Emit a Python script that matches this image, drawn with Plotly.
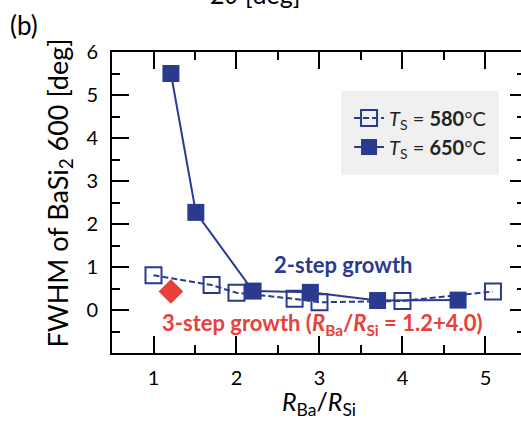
import plotly.graph_objects as go

# Data
x_580 = [1.0, 1.7, 2.0, 2.7, 3.0, 4.0, 5.09]
y_580 = [0.81, 0.58, 0.40, 0.26, 0.18, 0.21, 0.43]
x_650 = [1.21, 1.51, 2.2, 2.89, 3.7, 4.67]
y_650 = [5.50, 2.27, 0.44, 0.41, 0.22, 0.23]
x_3step = [1.21]
y_3step = [0.43]
x_ticks = [1, 2, 3, 4, 5]
y_ticks = [0, 1, 2, 3, 4, 5, 6]

BLUE = "#2a3b8f"
RED = "#e8403a"
FONT = "Lato"

fig = go.Figure()
fig.add_trace(go.Scatter(
    x=x_580, y=y_580, mode="lines+markers",
    name="<i>T</i><sub>S</sub> = <b>580</b>°C",
    line=dict(color=BLUE, width=2, dash="6px,3px"),
    marker=dict(symbol="square-open", size=16, color=BLUE, line=dict(width=2, color=BLUE)),
))
fig.add_trace(go.Scatter(
    x=x_650, y=y_650, mode="lines+markers",
    name="<i>T</i><sub>S</sub> = <b>650</b>°C",
    line=dict(color=BLUE, width=2),
    marker=dict(symbol="square", size=17, color=BLUE, line=dict(width=0)),
))
fig.add_trace(go.Scatter(
    x=x_3step, y=y_3step, mode="markers", showlegend=False,
    marker=dict(symbol="diamond", size=19, color=RED, line=dict(width=0)),
))
# dummy trace to activate right-side tick axis
fig.add_trace(go.Scatter(x=[None], y=[None], yaxis="y2", showlegend=False, hoverinfo="skip"))

tickfont = dict(family=FONT, size=20, color="black")
fig.update_layout(
    width=521, height=426,
    margin=dict(l=112, r=0, t=52, b=73),
    paper_bgcolor="white", plot_bgcolor="white",
    font=dict(family=FONT, color="black"),
    showlegend=True,
    legend=dict(
        x=0.56, y=0.872, xanchor="left", yanchor="top",
        bgcolor="#f0f0f0", bordercolor="#f0f0f0", borderwidth=8,
        font=dict(family=FONT, size=20, color="#222"),
        itemwidth=30, tracegroupgap=0,
    ),
    xaxis=dict(
        range=[0.5, 5.428], showgrid=False, zeroline=False,
        showline=True, linecolor="black", linewidth=2, mirror="ticks",
        ticks="inside", ticklen=17, tickwidth=2, tickcolor="black",
        tickmode="array", tickvals=x_ticks, ticktext=[str(v) for v in x_ticks],
        tickfont=tickfont, ticklabelstandoff=6,
        minor=dict(ticks="inside", ticklen=8, tickwidth=2, tickcolor="black", dtick=0.5, tick0=0.5, showgrid=False),
    ),
    yaxis=dict(
        range=[-1, 6], showgrid=False, zeroline=False,
        showline=True, linecolor="black", linewidth=2, mirror=False,
        ticks="inside", ticklen=17, tickwidth=2, tickcolor="black",
        tickmode="array", tickvals=y_ticks, ticktext=[str(v) for v in y_ticks],
        tickfont=tickfont, ticklabelstandoff=8,
        minor=dict(ticks="inside", ticklen=8, tickwidth=2, tickcolor="black", dtick=0.5, tick0=0.5, showgrid=False),
    ),
    yaxis2=dict(
        range=[-1, 6], overlaying="y", side="right", anchor="x",
        showgrid=False, zeroline=False, showline=False, showticklabels=False,
        ticks="inside", ticklen=11, tickwidth=2, tickcolor="black",
        tickmode="array", tickvals=y_ticks,
        minor=dict(ticks="inside", ticklen=4, tickwidth=2, tickcolor="black", dtick=0.5, tick0=0.5, showgrid=False),
    ),
)

annotations = [
    dict(text="2-step growth", x=3.295, y=1.05, xref="x", yref="y", showarrow=False,
         font=dict(family=FONT, size=22, color=BLUE, weight="bold")),
    dict(text="3-step growth (<i>R</i><sub>Ba</sub>/<i>R</i><sub>Si</sub> = 1.2+4.0)",
         x=3.036, y=-0.33, xref="x", yref="y", showarrow=False,
         font=dict(family=FONT, size=22, color=RED, weight="bold")),
    dict(text="<i>R</i><sub>Ba</sub>/<i>R</i><sub>Si</sub>", x=3.0, y=0, xref="x", yref="paper",
         yanchor="middle", yshift=-50, showarrow=False,
         font=dict(family=FONT, size=25, color="black")),
    dict(text="FWHM of BaSi<sub>2</sub> 600 [deg]", x=0, y=0.5, xref="paper", yref="paper",
         xanchor="center", yanchor="middle", xshift=-53, yshift=9, textangle=-90, showarrow=False,
         font=dict(family=FONT, size=27, color="black")),
    dict(text="(b)", x=0, y=1, xref="paper", yref="paper", xanchor="left", yanchor="top",
         xshift=-104, yshift=45, showarrow=False,
         font=dict(family=FONT, size=26, color="black")),
    dict(text="2<i>θ</i> [deg]", x=0.5 + (255 - 112) / 83.0, y=1, xref="x", yref="paper",
         xanchor="center", yanchor="bottom", yshift=41, showarrow=False,
         font=dict(family=FONT, size=25, color="black")),
]
fig.update_layout(annotations=annotations)

fig.write_html("out.html")
